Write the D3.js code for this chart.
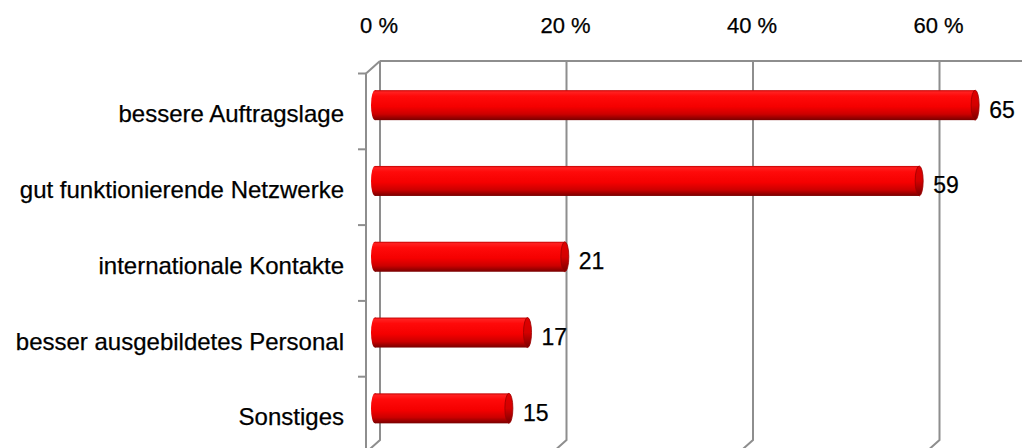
<!DOCTYPE html>
<html><head><meta charset="utf-8">
<script src="https://cdn.jsdelivr.net/npm/d3@7"></script>
<style>html,body{margin:0;padding:0;background:#fff;overflow:hidden}</style>
</head><body><svg id="c" width="1022" height="448"></svg>
<script>
const categories = ["bessere Auftragslage","gut funktionierende Netzwerke","internationale Kontakte","besser ausgebildetes Personal","Sonstiges"];
const values = [65,59,21,17,15];
const tickValues = [0,20,40,60];
const tickLabels = ["0 %","20 %","40 %","60 %"];

const W = 1022, H = 448;
const svg = d3.select("#c");
svg.append("rect").attr("width",W).attr("height",H).attr("fill","#fff");
const dX = 14, dY = 12.5;
const x = d3.scaleLinear().domain([0,60]).range([380,939.5]); // back plane
const y = d3.scaleBand().domain(categories).range([61,440]).padding(0);
const bw = y.bandwidth();
const font = "'Liberation Sans', Arial, sans-serif";

const defs = svg.append("defs");
const g1 = defs.append("linearGradient").attr("id","body").attr("x1",0).attr("y1",0).attr("x2",0).attr("y2",1);
[[0,"#c00000"],[0.06,"#ff2020"],[0.2,"#ff0a0a"],[0.55,"#f50000"],[0.8,"#cc0000"],[1,"#780000"]]
  .forEach(([o,c])=>g1.append("stop").attr("offset",o).attr("stop-color",c));
const g2 = defs.append("linearGradient").attr("id","cap").attr("x1",0).attr("y1",0).attr("x2",0).attr("y2",1);
[[0,"#e00000"],[0.5,"#d40000"],[1,"#7a0000"]]
  .forEach(([o,c])=>g2.append("stop").attr("offset",o).attr("stop-color",c));

// grid
const gridCol = "#8e8e8e";
const grid = svg.append("g").attr("fill","none").attr("stroke",gridCol).attr("stroke-width",2);
tickValues.forEach(t=>{
  const xx = x(t);
  grid.append("path").attr("d",`M${xx},61 L${xx},440 L${xx-dX},${440+dY}`);
});
grid.append("path").attr("d",`M${x(0)},61 L${W},61`);
grid.append("path").attr("d",`M${x(0)-dX},${61+dY} L${x(0)},61`);
grid.append("path").attr("d",`M${x(0)-dX},${61+dY} L${x(0)-dX},${440+dY}`);
d3.range(categories.length+1).forEach(i=>{
  const yy = 61+dY+i*bw;
  grid.append("path").attr("d",`M${x(0)-dX-8},${yy} L${x(0)-dX},${yy}`);
});

// tick labels
svg.append("g").selectAll("text").data(tickValues).join("text")
  .attr("x",d=>x(d)-1).attr("y",33).attr("text-anchor","middle")
  .attr("font-family",font).attr("font-size",22).attr("fill","#000")
  .attr("stroke","#000").attr("stroke-width",0.25)
  .text((d,i)=>tickLabels[i]);

// category labels
svg.append("g").selectAll("text").data(categories).join("text")
  .attr("x",344).attr("y",d=>y(d)+bw/2+dY/2+17).attr("text-anchor","end")
  .attr("font-family",font).attr("font-size",24).attr("fill","#000")
  .attr("stroke","#000").attr("stroke-width",0.25)
  .text(d=>d);

// bars
const bh = 30, rx = 4;
const bars = svg.append("g").selectAll("g").data(categories).join("g");
bars.each(function(c,i){
  const g = d3.select(this);
  const cy = y(c)+bw/2+dY/2;
  const x0 = x(0)-dX/2;
  const xe = x(values[i])-dX/2;
  g.append("ellipse").attr("cx",x0-2+rx).attr("cy",cy).attr("rx",rx).attr("ry",bh/2).attr("fill","url(#body)");
  g.append("rect").attr("x",x0-2+rx).attr("y",cy-bh/2).attr("width",xe-rx-(x0-2+rx)).attr("height",bh).attr("fill","url(#body)");
  g.append("ellipse").attr("cx",xe-rx).attr("cy",cy).attr("rx",rx).attr("ry",bh/2)
    .attr("fill","url(#cap)").attr("stroke","#9a0000").attr("stroke-width",0.8);
  g.append("text").attr("x",xe+10).attr("y",cy+12.5)
    .attr("font-family",font).attr("font-size",23).attr("fill","#000")
    .attr("stroke","#000").attr("stroke-width",0.25).text(values[i]);
});
</script></body></html>
